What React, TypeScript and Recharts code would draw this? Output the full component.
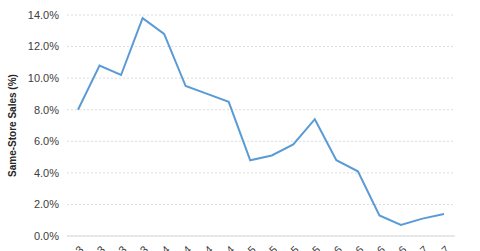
import React from 'react';
import { LineChart, Line, XAxis, YAxis, CartesianGrid, ReferenceLine } from 'recharts';

const quarters = [
  '1Q13', '2Q13', '3Q13', '4Q13',
  '1Q14', '2Q14', '3Q14', '4Q14',
  '1Q15', '2Q15', '3Q15', '4Q15',
  '1Q16', '2Q16', '3Q16', '4Q16',
  '1Q17', '2Q17',
];
const sameStoreSales = [8.0, 10.8, 10.2, 13.8, 12.8, 9.5, 9.0, 8.5, 4.8, 5.1, 5.8, 7.4, 4.8, 4.1, 1.3, 0.7, 1.1, 1.4];
const yTicks = [0, 2, 4, 6, 8, 10, 12, 14];

const data = quarters.map((q, i) => ({ quarter: q, sales: sameStoreSales[i] }));

const FONT = '"Liberation Sans", Arial, sans-serif';

// rotated quarter labels, the original crops them at the bottom edge
const XTick = (props: any) => {
  const { x, y, payload } = props;
  return (
    <g transform={`translate(${x},${y})`}>
      <text
        x={0}
        y={0}
        dy={9}
        textAnchor="end"
        transform="rotate(-45)"
        fontSize={11}
        fontFamily={FONT}
        fill="#404040"
      >
        {payload.value}
      </text>
    </g>
  );
};

const App: React.FC = () => {
  return (
    <div style={{ position: 'absolute', left: 0, top: 0, width: 480, height: 251, overflow: 'hidden', background: '#fff' }}>
      <LineChart width={480} height={300} data={data} margin={{ top: 15, right: 25, left: 0, bottom: 0 }}>
        <CartesianGrid vertical={false} stroke="#dcdcdc" strokeDasharray="2 2" />
        <XAxis
          dataKey="quarter"
          interval={0}
          height={64}
          padding={{ left: 11, right: 11 }}
          axisLine={false}
          tickLine={false}
          tick={<XTick />}
        />
        <YAxis
          width={67}
          domain={[0, 14]}
          ticks={yTicks}
          axisLine={false}
          tickLine={false}
          tickFormatter={(v: number) => `${v.toFixed(1)}%`}
          tick={{ fontSize: 11, fontFamily: FONT, fill: '#404040' }}
          label={{
            value: 'Same-Store Sales (%)',
            angle: -90,
            position: 'insideLeft',
            offset: 12,
            style: { fontSize: 10, fontWeight: 'bold', fontFamily: FONT, fill: '#262626', textAnchor: 'middle' },
          }}
        />
        <ReferenceLine y={0} stroke="#d9d9d9" strokeWidth={1} />
        <Line
          type="linear"
          dataKey="sales"
          stroke="#5b9bd5"
          strokeWidth={2}
          dot={false}
          isAnimationActive={false}
        />
      </LineChart>
    </div>
  );
};

export default App;
